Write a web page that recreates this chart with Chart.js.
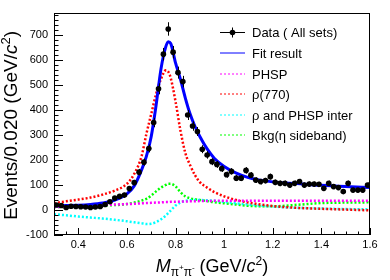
<!DOCTYPE html>
<html>
<head>
<meta charset="utf-8">
<script src="https://cdn.jsdelivr.net/npm/chart.js@4.4.0/dist/chart.umd.min.js"></script>
<style>
  body { margin: 0; background: #fff; }
  #wrap { width: 390px; height: 280px; }
</style>
</head>
<body>
<div id="wrap"><canvas id="massChart" width="390" height="280"></canvas></div>
<script>
const FONT = "'Liberation Sans', Arial, Helvetica, sans-serif";

// -------- data points (bin centres in GeV/c^2) --------
const binCenters = [
  0.31, 0.33, 0.35, 0.37, 0.39, 0.41, 0.43, 0.45, 0.47, 0.49,
  0.51, 0.53, 0.55, 0.57, 0.59, 0.61, 0.63, 0.65, 0.67, 0.69,
  0.71, 0.73, 0.75, 0.77, 0.79, 0.81, 0.83, 0.85, 0.87, 0.89,
  0.91, 0.93, 0.95, 0.97, 0.99, 1.01, 1.03, 1.05, 1.07, 1.09,
  1.11, 1.13, 1.15, 1.17, 1.19, 1.21, 1.23, 1.25, 1.27, 1.29,
  1.31, 1.33, 1.35, 1.37, 1.39, 1.41, 1.43, 1.45, 1.47, 1.49,
  1.51, 1.53, 1.55, 1.57, 1.59,
];
const dataCounts = [
  20, 18, 10, 15, 14, 13, 12, 10, 12, 14,
  22, 33, 48, 55, 60, 86, 110, 152, 192, 247,
  351, 486, 625, 726, 633, 551, 515, 381, 337, 315,
  244, 221, 194, 183, 166, 142, 155, 128, 128, 159,
  140, 120, 114, 118, 134, 111, 107, 107, 100, 107,
  114, 100, 104, 104, 103, 87, 107, 94, 90, 74,
  107, 80, 80, 80, 100,
];
const dataErrors = [
  6, 6, 5, 5, 5, 5, 5, 5, 5, 5,
  6, 7, 8, 8, 9, 10, 11, 13, 14, 16,
  19, 22, 25, 27, 25, 24, 23, 20, 19, 18,
  16, 15, 14, 14, 13, 12, 13, 12, 12, 13,
  12, 11, 11, 11, 12, 11, 11, 11, 10, 11,
  11, 10, 10, 10, 10, 10, 11, 10, 10, 9,
  11, 9, 9, 9, 10,
];

// -------- fit components, sampled along the mass axis --------
const curveMass = [
  0.30, 0.35, 0.40, 0.45, 0.50, 0.55, 0.60, 0.63, 0.66, 0.68,
  0.70, 0.72, 0.74, 0.76, 0.77, 0.78, 0.80, 0.82, 0.84, 0.86,
  0.88, 0.90, 0.93, 0.96, 1.00, 1.05, 1.10, 1.20, 1.30, 1.40,
  1.50, 1.60,
];
const fitCurve = [
  17, 18, 19, 22, 28, 40, 65, 97, 160, 215,
  295, 420, 565, 655, 675, 668, 590, 525, 450, 385,
  335, 295, 245, 207, 175, 148, 130, 113, 106, 99,
  94, 90,
];
const phspCurve = [
  12, 14, 16, 18, 20, 22, 24, 25, 27, 28,
  29, 30, 31, 32, 32, 33, 33, 34, 34, 35,
  35, 36, 36, 37, 37, 37, 37, 37, 37, 37,
  37, 37,
];
const rhoCurve = [
  27, 35, 42, 50, 62, 78, 105, 145, 215, 305,
  385, 465, 525, 560, 555, 530, 435, 320, 230, 180,
  140, 112, 90, 72, 55, 40, 30, 16, 9, 5,
  2, -1,
];
const interCurve = [
  -17, -21, -26, -30, -34, -39, -45, -49, -53, -56,
  -55, -48, -37, -22, -12, -2, 18, 30, 37, 39,
  40, 40, 39, 37, 33, 27, 22, 14, 9, 6,
  4, 3,
];
const bkgCurve = [
  12, 13, 15, 16, 18, 20, 24, 30, 38, 45,
  58, 75, 90, 101, 105, 105, 95, 72, 55, 47,
  43, 40, 36, 31, 27, 22, 17, 15, 21, 28,
  30, 31,
];

const xTicks = [0.4, 0.6, 0.8, 1.0, 1.2, 1.4, 1.6];
const yTicks = [-100, 0, 100, 200, 300, 400, 500, 600, 700];

const seriesNames = [
  "Data ( All sets)",
  "Fit result",
  "PHSP",
  "ρ(770)",
  "ρ and PHSP inter",
  "Bkg(η sideband)",
];

function toPoints(xs, ys) {
  return xs.map((x, i) => ({ x: x, y: ys[i] }));
}

function curve(label, ys, color, width, dashed) {
  return {
    label: label,
    data: toPoints(curveMass, ys),
    showLine: true,
    borderColor: color,
    borderWidth: width,
    borderDash: dashed ? [2, 2] : [],
    pointRadius: 0,
    cubicInterpolationMode: "monotone",
    fill: false,
  };
}

// draw mixed-style text (italic, sub/superscripts) from a list of parts
function richWidth(ctx, parts) {
  let w = 0;
  parts.forEach((p) => {
    ctx.font = (p.italic ? "italic " : "") + p.size + "px " + FONT;
    w += ctx.measureText(p.t).width;
  });
  return w;
}

function drawRich(ctx, parts, x, y) {
  let cx = x;
  parts.forEach((p) => {
    ctx.font = (p.italic ? "italic " : "") + p.size + "px " + FONT;
    ctx.fillText(p.t, cx, y + (p.dy || 0));
    cx += ctx.measureText(p.t).width;
  });
}

// -------- error bars under the markers --------
const errorBars = {
  id: "errorBars",
  beforeDatasetDraw(chart, args) {
    if (args.index !== 0) return;
    const { ctx, scales } = chart;
    ctx.save();
    ctx.strokeStyle = "#000";
    ctx.lineWidth = 1;
    binCenters.forEach((m, i) => {
      const x = Math.round(scales.x.getPixelForValue(m)) + 0.5;
      const yTop = scales.y.getPixelForValue(dataCounts[i] + dataErrors[i]);
      const yBot = scales.y.getPixelForValue(dataCounts[i] - dataErrors[i]);
      const xl = scales.x.getPixelForValue(m - 0.01);
      const xr = scales.x.getPixelForValue(m + 0.01);
      const yc = Math.round(scales.y.getPixelForValue(dataCounts[i])) + 0.5;
      ctx.beginPath();
      ctx.moveTo(x, yTop);
      ctx.lineTo(x, yBot);
      ctx.moveTo(xl, yc);
      ctx.lineTo(xr, yc);
      ctx.stroke();
    });
    ctx.restore();
  },
};

// -------- frame, inward ticks, axis titles, legend --------
const decorations = {
  id: "decorations",
  afterDraw(chart) {
    const { ctx, chartArea: a, scales } = chart;
    ctx.save();
    ctx.strokeStyle = "#000";
    ctx.lineWidth = 1;
    ctx.strokeRect(a.left + 0.5, a.top + 0.5, a.right - a.left - 1, a.bottom - a.top - 1);

    // y ticks every 20, major every 100
    ctx.beginPath();
    for (let v = -100; v <= 780; v += 20) {
      const y = Math.round(scales.y.getPixelForValue(v)) + 0.5;
      const len = v % 100 === 0 ? 9 : 4.5;
      ctx.moveTo(a.left, y);
      ctx.lineTo(a.left + len, y);
    }
    // x ticks every 0.05, major every 0.2
    for (let i = 0; i <= 26; i++) {
      const v = 0.3 + i * 0.05;
      const x = Math.round(scales.x.getPixelForValue(v)) + 0.5;
      const major = Math.abs(v * 5 - Math.round(v * 5)) < 1e-6;
      const len = major ? 7 : 3.5;
      ctx.moveTo(x, a.bottom);
      ctx.lineTo(x, a.bottom - len);
    }
    ctx.stroke();

    ctx.fillStyle = "#000";
    ctx.textBaseline = "alphabetic";

    // x title
    const xParts = [
      { t: "M", size: 18, italic: true },
      { t: "π", size: 12, dy: 4 },
      { t: "+", size: 8, dy: -2 },
      { t: "π", size: 12, dy: 4 },
      { t: "-", size: 8, dy: -2 },
      { t: " (GeV/", size: 18 },
      { t: "c", size: 18, italic: true },
      { t: "2", size: 12, dy: -7 },
      { t: ")", size: 18 },
    ];
    const xw = richWidth(ctx, xParts);
    drawRich(ctx, xParts, (a.left + a.right) / 2 - xw / 2, 272);

    // y title
    const yParts = [
      { t: "Events/0.020 (GeV/", size: 19 },
      { t: "c", size: 19, italic: true },
      { t: "2", size: 13, dy: -7 },
      { t: ")", size: 19 },
    ];
    const yw = richWidth(ctx, yParts);
    ctx.save();
    ctx.translate(17, 31 + yw);
    ctx.rotate(-Math.PI / 2);
    drawRich(ctx, yParts, 0, 0);
    ctx.restore();

    // legend
    const rowY = [32, 53, 74, 94, 115, 135];
    const x0 = 220;
    const x1 = 245;
    chart.data.datasets.forEach((ds, i) => {
      ctx.save();
      if (i === 0) {
        const y = rowY[i] + 0.5;
        ctx.strokeStyle = "#000";
        ctx.lineWidth = 1;
        ctx.beginPath();
        ctx.moveTo(x0, y);
        ctx.lineTo(x1, y);
        ctx.moveTo(232.5, y - 5);
        ctx.lineTo(232.5, y + 5);
        ctx.stroke();
        ctx.beginPath();
        ctx.arc(232.5, y, 2.8, 0, Math.PI * 2);
        ctx.fill();
      } else {
        // thin line straddling two pixel rows, as in the reference
        const y = rowY[i];
        ctx.strokeStyle = ds.borderColor;
        ctx.lineWidth = 1;
        ctx.setLineDash(ds.borderDash.length ? [2, 2] : []);
        ctx.beginPath();
        ctx.moveTo(x0, y);
        ctx.lineTo(x1, y);
        ctx.stroke();
      }
      ctx.restore();
      ctx.font = "13px " + FONT;
      ctx.textBaseline = "middle";
      ctx.fillText(ds.label, 252, rowY[i] + 1);
    });
    ctx.restore();
  },
};

const canvas = document.getElementById("massChart");

new Chart(canvas, {
  type: "scatter",
  data: {
    datasets: [
      {
        label: seriesNames[0],
        data: toPoints(binCenters, dataCounts),
        pointRadius: 2.8,
        pointBackgroundColor: "#000",
        pointBorderWidth: 0,
        borderColor: "#000",
        showLine: false,
      },
      curve(seriesNames[1], fitCurve, "#0000ff", 3, false),
      curve(seriesNames[2], phspCurve, "#ff00ff", 2.5, true),
      curve(seriesNames[3], rhoCurve, "#ff0000", 2.5, true),
      curve(seriesNames[4], interCurve, "#00ffff", 2.5, true),
      curve(seriesNames[5], bkgCurve, "#00ff00", 2.5, true),
    ],
  },
  options: {
    responsive: false,
    animation: false,
    layout: { padding: { top: 13, right: 20, left: 0, bottom: 0 } },
    plugins: {
      legend: { display: false },
      tooltip: { enabled: false },
    },
    scales: {
      x: {
        type: "linear",
        min: 0.3,
        max: 1.6,
        grid: { display: false, drawTicks: false },
        border: { display: false },
        afterBuildTicks: (s) => {
          s.ticks = xTicks.map((v) => ({ value: v }));
        },
        afterFit: (s) => {
          s.height = 45;
        },
        ticks: {
          padding: 3,
          color: "#000",
          maxRotation: 0,
          autoSkip: false,
          font: { family: FONT, size: 11 },
          callback: (v) => String(+Number(v).toFixed(1)),
        },
      },
      y: {
        type: "linear",
        min: -100,
        max: 790,
        grid: { display: false, drawTicks: false },
        border: { display: false },
        afterBuildTicks: (s) => {
          s.ticks = yTicks.map((v) => ({ value: v }));
        },
        afterFit: (s) => {
          s.width = 54;
        },
        ticks: {
          padding: 6,
          color: "#000",
          font: { family: FONT, size: 11 },
        },
      },
    },
  },
  plugins: [errorBars, decorations],
});
</script>
</body>
</html>
